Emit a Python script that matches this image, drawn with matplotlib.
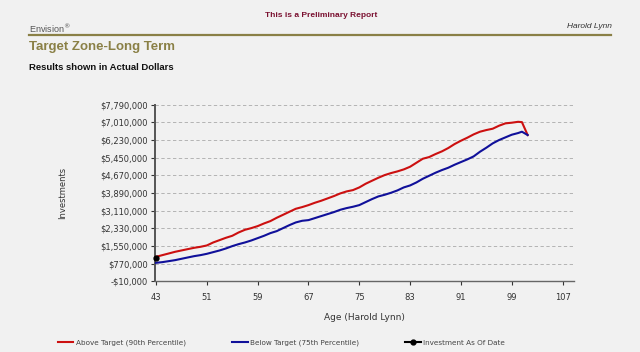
import matplotlib
matplotlib.use("Agg")
import matplotlib.pyplot as plt
from matplotlib.lines import Line2D
from matplotlib.ticker import FuncFormatter

# data (age -> dollars)
ages = [43, 44, 45, 46, 47, 48, 49, 50, 51, 52, 53, 54, 55, 56, 57, 58, 59, 60,
        61, 62, 63, 64, 65, 66, 67, 68, 69, 70, 71, 72, 73, 74, 75, 76, 77, 78,
        79, 80, 81, 82, 83, 84, 85, 86, 87, 88, 89, 90, 91, 92, 93, 94, 95, 96,
        97, 98, 99, 100, 100.6, 101.5]

above_target = [1079000, 1153000, 1226000, 1300000, 1359000, 1418000, 1476000,
                1520000, 1580000, 1712000, 1815000, 1918000, 2006000, 2153000,
                2271000, 2345000, 2433000, 2551000, 2654000, 2801000, 2933000,
                3066000, 3198000, 3272000, 3360000, 3463000, 3552000, 3655000,
                3758000, 3875000, 3964000, 4022000, 4140000, 4302000, 4435000,
                4567000, 4685000, 4773000, 4847000, 4935000, 5053000, 5230000,
                5406000, 5480000, 5612000, 5730000, 5877000, 6053000, 6200000,
                6333000, 6480000, 6598000, 6671000, 6730000, 6863000, 6966000,
                6995000, 7035000, 7020000, 6451000]

below_target = [814000, 844000, 888000, 932000, 991000, 1050000, 1108000,
                1153000, 1211000, 1285000, 1359000, 1447000, 1550000, 1638000,
                1712000, 1800000, 1903000, 2006000, 2124000, 2212000, 2345000,
                2477000, 2595000, 2668000, 2698000, 2786000, 2875000, 2963000,
                3051000, 3154000, 3228000, 3287000, 3360000, 3493000, 3625000,
                3743000, 3816000, 3905000, 4008000, 4140000, 4228000, 4361000,
                4523000, 4655000, 4788000, 4905000, 5008000, 5141000, 5259000,
                5376000, 5509000, 5715000, 5892000, 6083000, 6230000, 6348000,
                6465000, 6539000, 6598000, 6451000]

invest_age = [43]
invest_value = [1006000]

y_ticks = [-10000, 770000, 1550000, 2330000, 3110000, 3890000, 4670000,
           5450000, 6230000, 7010000, 7790000]
x_ticks = [43, 51, 59, 67, 75, 83, 91, 99, 107]

bg = "#f1f1f1"
gold = "#8a8046"

fig = plt.figure(figsize=(6.4, 3.52), dpi=100, facecolor=bg)

# ---- header
fig.text(0.045, 0.905, "Envision$^{\\circledR}$", fontsize=6.5, color="#555555",
         family="Liberation Sans", va="baseline")
fig.text(0.502, 0.955, "This is a Preliminary Report", fontsize=6, color="#7a1030",
         family="Liberation Sans", weight="bold", ha="center", va="center")
fig.text(0.956, 0.924, "Harold Lynn", fontsize=6, color="#333333",
         family="Liberation Sans", style="italic", ha="right", va="center")
fig.add_artist(Line2D([0.045, 0.955], [0.901, 0.901], color=gold, lw=1.6))
fig.text(0.045, 0.866, "Target Zone-Long Term", fontsize=9.5, color=gold,
         family="Liberation Sans", weight="bold", va="center")
fig.text(0.045, 0.808, "Results shown in Actual Dollars", fontsize=6.8,
         color="#111111", family="Liberation Sans", weight="bold", va="center")

# ---- chart
ax = fig.add_axes([0.2422, 0.2003, 0.6547, 0.5023])
ax.set_facecolor(bg)

ax.plot(ages, above_target, color="#cc1010", lw=1.5, zorder=3)
ax.plot(ages, below_target, color="#10109a", lw=1.5, zorder=3)
ax.plot(invest_age, invest_value, "o", color="black", ms=3.5, zorder=4,
        clip_on=False)

ax.set_xlim(42.84, 108.8)
ax.set_ylim(-10000, 7790000)
ax.set_xticks(x_ticks)
ax.set_yticks(y_ticks)


def money(v, pos):
    if v < 0:
        return "-${:,.0f}".format(-v)
    return "${:,.0f}".format(v)


ax.yaxis.set_major_formatter(FuncFormatter(money))
ax.tick_params(axis="both", labelsize=6, colors="#333333", length=3, width=0.8,
               direction="out", pad=2)
ax.tick_params(axis="x", pad=5)
for lbl in ax.get_yticklabels() + ax.get_xticklabels():
    lbl.set_family("DejaVu Sans")

ax.yaxis.grid(True, linestyle=(0, (4, 3)), color="#aaaaaa", lw=0.6)
ax.set_axisbelow(True)
for s in ["top", "right"]:
    ax.spines[s].set_visible(False)
ax.spines["left"].set_color("#555555")
ax.spines["left"].set_linewidth(1.4)
ax.spines["bottom"].set_color("#666666")
ax.spines["bottom"].set_linewidth(1.0)

ax.set_ylabel("Investments", fontsize=6, color="#333333", labelpad=0)
ax.yaxis.set_label_coords(-0.21, 0.5)
ax.set_xlabel("Age (Harold Lynn)", fontsize=6.5, color="#333333", labelpad=8)

# ---- legend, three separate entries like the reference
entries = [
    (0.09, Line2D([], [], color="#cc1010", lw=1.5), "Above Target (90th Percentile)"),
    (0.362, Line2D([], [], color="#10109a", lw=1.5), "Below Target (75th Percentile)"),
    (0.633, Line2D([], [], color="black", lw=1.5, marker="o", ms=3.5),
     "Investment As Of Date"),
]
for x, h, label in entries:
    leg = fig.legend(handles=[h], labels=[label], loc="center left",
                     bbox_to_anchor=(x, 0.027), frameon=False, fontsize=5.2,
                     handlelength=2.2, handletextpad=0.3, borderpad=0,
                     borderaxespad=0)
    for t in leg.get_texts():
        t.set_color("#444444")

fig.savefig("out.png", dpi=100, facecolor=bg)
